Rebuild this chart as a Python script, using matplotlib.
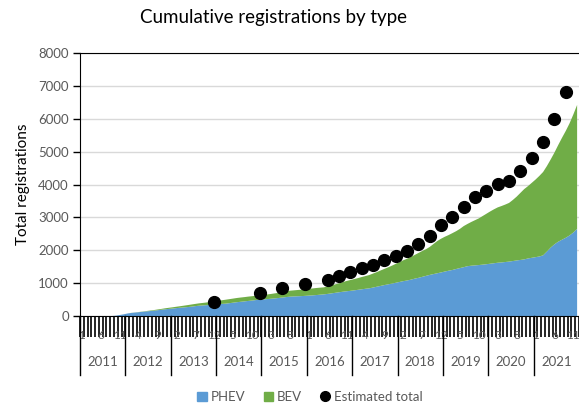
import matplotlib
matplotlib.use('Agg')
import matplotlib.pyplot as plt
from matplotlib.lines import Line2D
from matplotlib.patches import Patch
import numpy as np

############### Data
years = ['2011', '2012', '2013', '2014', '2015', '2016', '2017', '2018', '2019', '2020', '2021']

# cumulative PHEV registrations, monthly from 2011-01 to 2021-12
phev = [0, 0, 0, 0, 0, 0, 0, 0, 0, 10, 30, 50,
        75, 92, 105, 115, 128, 140, 150, 162, 175, 190, 204, 216,
        228, 240, 252, 262, 272, 285, 300, 314, 322, 330, 340, 352,
        360, 368, 375, 390, 405, 420, 432, 445, 458, 470, 485, 495,
        505, 515, 525, 535, 548, 560, 575, 588, 595, 600, 605, 612,
        620, 628, 637, 648, 658, 672, 688, 705, 722, 738, 752, 765,
        780, 796, 812, 828, 841, 865, 890, 915, 940, 963, 985, 1010,
        1035, 1060, 1080, 1105, 1135, 1160, 1190, 1220, 1250, 1275, 1300, 1325,
        1352, 1378, 1400, 1430, 1458, 1485, 1515, 1530, 1540, 1550, 1562, 1575,
        1590, 1605, 1620, 1630, 1642, 1655, 1672, 1690, 1705, 1722, 1750, 1770,
        1790, 1810, 1845, 1960, 2080, 2180, 2260, 2320, 2380, 2450, 2540, 2650]

# cumulative BEV registrations, same months
bev = [0, 0, 0, 0, 0, 0, 0, 0, 0, 0, 0, 0,
       0, 3, 3, 5, 7, 10, 15, 18, 23, 25, 30, 34,
       37, 42, 46, 53, 60, 65, 68, 71, 76, 82, 88, 93,
       102, 110, 120, 122, 125, 128, 130, 130, 132, 132, 130, 133,
       135, 140, 145, 153, 157, 165, 173, 182, 185, 190, 195, 200,
       205, 210, 215, 214, 214, 228, 242, 257, 273, 292, 313, 329,
       342, 356, 373, 387, 405, 425, 445, 470, 492, 517, 545, 575,
       605, 635, 660, 690, 720, 755, 785, 810, 850, 915, 980, 1025,
       1058, 1084, 1120, 1150, 1192, 1250, 1285, 1330, 1375, 1419, 1478, 1535,
       1590, 1640, 1684, 1715, 1748, 1785, 1858, 1940, 2040, 2138, 2200, 2280,
       2360, 2450, 2535, 2600, 2680, 2790, 2940, 3100, 3250, 3410, 3590, 3770]

# estimated total (dots)
est_months = ['2013-12', '2014-12', '2015-06', '2015-12', '2016-06', '2016-09', '2016-12',
              '2017-03', '2017-06', '2017-09', '2017-12', '2018-03', '2018-06', '2018-09',
              '2018-12', '2019-03', '2019-06', '2019-09', '2019-12', '2020-03', '2020-06',
              '2020-09', '2020-12', '2021-03', '2021-06', '2021-09']
est_total = [435, 710, 842, 973, 1094, 1216, 1347,
             1459, 1559, 1693, 1833, 1985, 2198, 2441,
             2775, 3009, 3322, 3626, 3800, 4003, 4120,
             4400, 4800, 5298, 5990, 6815]

############### Plot
plt.rcParams['font.family'] = ['Lato', 'DejaVu Sans']
blue = '#5B9BD5'
green = '#70AD47'
grey_txt = '#595959'

n = len(phev)
x = np.arange(n)
est_x = [(int(s[:4]) - 2011) * 12 + int(s[5:]) - 1 for s in est_months]

fig = plt.figure(figsize=(5.79, 4.04), dpi=100)
ax = fig.add_axes([80 / 579, 88 / 404, 499 / 579, 263 / 404])

ax.stackplot(x, phev, bev, colors=[blue, green], linewidth=0, zorder=2)
ax.plot(est_x, est_total, 'o', color='black', markersize=8.5, zorder=4, clip_on=False)

ax.set_xlim(-0.5, n - 0.5)
ax.set_ylim(0, 8000)
ax.set_yticks(range(0, 8001, 1000))
ax.tick_params(axis='y', direction='out', length=5, width=1, colors='black',
               labelcolor=grey_txt, labelsize=9.5, pad=3)
ax.yaxis.grid(True, color='#d9d9d9', linewidth=1)
ax.set_axisbelow(True)

ax.spines['right'].set_visible(False)
for s in ['top', 'left', 'bottom']:
    ax.spines[s].set_color('black')

# monthly tick marks
ax.set_xticks(np.arange(-0.5, n, 1.0))
ax.set_xticklabels([])
ax.tick_params(axis='x', direction='out', length=15, width=1.2, colors='black')

trans = ax.get_xaxis_transform()
for m in range(0, n, 5):
    ax.text(m, -0.074, str(m % 12 + 1), transform=trans, ha='center', va='center',
            fontsize=8.5, color=grey_txt, zorder=1, clip_on=False)

# year separators and labels
for i, yr in enumerate(years):
    ax.add_line(Line2D([i * 12 - 0.5, i * 12 - 0.5], [0, -0.225], transform=trans,
                       color='black', linewidth=1, clip_on=False))
    ax.text(i * 12 + 5.5, -0.175, yr, transform=trans, ha='center', va='center',
            fontsize=9.5, color=grey_txt, clip_on=False)

ax.set_ylabel('Total registrations', fontsize=11, color='black', labelpad=6)
fig.text(273 / 579, 1 - 18 / 404, 'Cumulative registrations by type', ha='center', va='center',
         fontsize=13.5, color='black')

handles = [Patch(color=blue, label='PHEV'), Patch(color=green, label='BEV'),
           Line2D([], [], marker='o', color='black', linestyle='none', markersize=7,
                  label='Estimated total')]
fig.legend(handles=handles, loc='center', bbox_to_anchor=(310 / 579, 1 - 397 / 404), ncol=3,
           frameon=False, fontsize=9.5, handlelength=0.7, handleheight=0.7,
           handletextpad=0.3, columnspacing=1.4, labelcolor=grey_txt)

plt.savefig('out.png', dpi=100)
